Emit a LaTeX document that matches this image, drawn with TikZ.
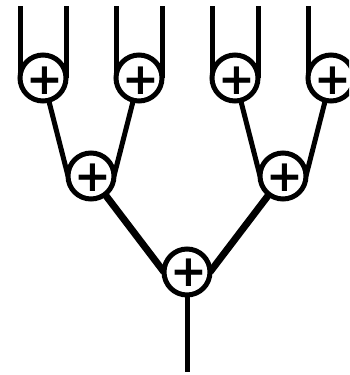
\documentclass[tikz,border=0pt]{standalone}
\usepackage{fontspec}
\newfontfamily\plusfont{DejaVu Sans}
\usetikzlibrary{backgrounds}
\begin{document}
\begin{tikzpicture}[x=1pt,y=-1pt,
  sum/.style={circle, draw=black, line width=5pt, fill=white, minimum size=46pt, inner sep=0pt, outer sep=0pt},
  plus/.style={inner sep=0pt, font=\plusfont\bfseries\fontsize{44}{44}\selectfont},
  wire/.style={draw=black, line width=5pt},
  thickwire/.style={draw=black, line width=7pt}]
\clip (0,0) rectangle (349,375);
% top row
\node[sum] (a1) at (43,78) {};
\node[sum] (a2) at (139,78) {};
\node[sum] (a3) at (235,78) {};
\node[sum] (a4) at (331,78) {};
% middle row
\node[sum] (b1) at (91,176) {};
\node[sum] (b2) at (283,176) {};
% bottom
\node[sum] (c) at (187,272) {};
% plus signs
\node[plus] (pa1) at ([shift={(1.5,3)}]a1.center) {+};
\node[plus] (pa2) at ([shift={(1.5,3)}]a2.center) {+};
\node[plus] (pa3) at ([shift={(1.5,3)}]a3.center) {+};
\node[plus] (pa4) at ([shift={(1.5,3)}]a4.center) {+};
\node[plus] (pb1) at ([shift={(1.5,1.5)}]b1.center) {+};
\node[plus] (pb2) at ([shift={(1.5,1.5)}]b2.center) {+};
\node[plus] (pc) at ([shift={(1.5,1)}]c.center) {+};
% free ends
\coordinate (t1l) at (20,6);  \coordinate (t1r) at (66,6);
\coordinate (t2l) at (116,6); \coordinate (t2r) at (162,6);
\coordinate (t3l) at (212,6); \coordinate (t3r) at (258,6);
\coordinate (t4l) at (308,6); \coordinate (t4r) at (354,6);
\coordinate (out) at (187,372);
\begin{scope}[on background layer]
  \fill[white] (0,0) rectangle (349,375);
  \draw[wire] (t1l) -- (a1.west);  \draw[wire] (t1r) -- (a1.east);
  \draw[wire] (t2l) -- (a2.west);  \draw[wire] (t2r) -- (a2.east);
  \draw[wire] (t3l) -- (a3.west);  \draw[wire] (t3r) -- (a3.east);
  \draw[wire] (t4l) -- (a4.west);  \draw[wire] (t4r) -- (a4.east);
  \draw[wire] (a1.center) -- (b1.west);
  \draw[wire] (a2.center) -- (b1.east);
  \draw[wire] (a3.center) -- (b2.west);
  \draw[wire] (a4.center) -- (b2.east);
  \draw[thickwire] (b1.center) -- (c.west);
  \draw[thickwire] (b2.center) -- (c.east);
  \draw[wire] (c.center) -- (out);
\end{scope}
\end{tikzpicture}
\end{document}
